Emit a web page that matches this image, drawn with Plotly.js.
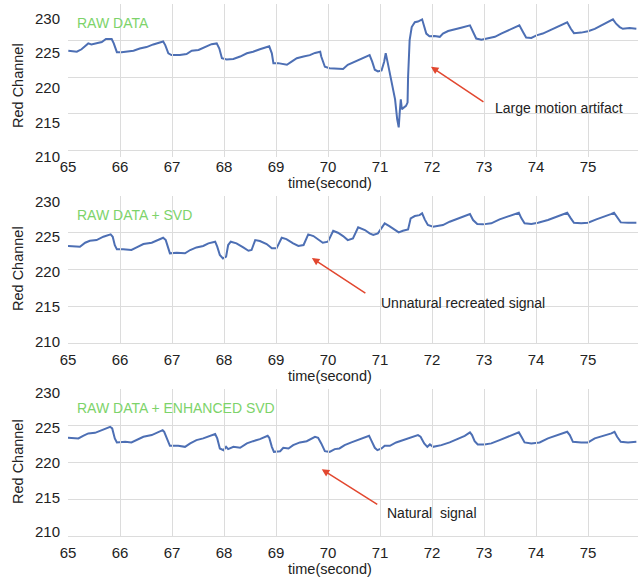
<!DOCTYPE html>
<html>
<head>
<meta charset="utf-8">
<script src="https://cdn.plot.ly/plotly-3.0.1.min.js"></script>
<style>html,body{margin:0;padding:0;background:#fff;}#chart{width:638px;height:581px;}</style>
</head>
<body>
<div id="chart"></div>
<script>
// ---- data ----
const xTicks = [65, 66, 67, 68, 69, 70, 71, 72, 73, 74, 75];
const yTicks = [210, 215, 220, 225, 230];
const panelTitles = ["RAW DATA", "RAW DATA + SVD", "RAW DATA + ENHANCED SVD"];
const notes = ["Large motion artifact", "Unnatural recreated signal", "Natural\u00a0 signal"];

const rawTime = [65.006,65.17,65.26,65.39,65.45,65.55,65.65,65.73,65.84,65.88,65.94,66.03,66.13,66.26,66.38,66.51,66.64,66.74,66.83,66.87,66.93,66.99,67.15,67.28,67.38,67.51,67.63,67.76,67.86,67.91,67.96,68.05,68.18,68.31,68.44,68.56,68.69,68.82,68.87,68.92,68.95,69.04,69.21,69.30,69.40,69.53,69.65,69.75,69.85,69.87,69.94,70.03,70.19,70.29,70.38,70.45,70.51,70.61,70.71,70.80,70.85,70.90,70.96,71.03,71.08,71.11,71.15,71.22,71.29,71.33,71.36,71.38,71.40,71.42,71.50,71.53,71.54,71.57,71.61,71.67,71.73,71.81,71.85,71.89,71.95,72.05,72.15,72.21,72.31,72.44,72.56,72.73,72.79,72.85,72.95,73.08,73.21,73.33,73.46,73.59,73.68,73.75,73.81,73.91,74.01,74.13,74.26,74.39,74.52,74.60,74.67,74.73,74.87,75.0,75.13,75.26,75.38,75.48,75.54,75.61,75.67,75.80,75.93];
const rawRed = [223.6,223.46,223.8,224.6,224.46,224.6,224.8,225.2,225.2,224.6,223.4,223.4,223.46,223.6,223.9,224.1,224.46,224.7,224.87,224.37,223.25,223.0,223.0,223.15,223.6,223.7,224.05,224.5,224.6,223.9,222.57,222.4,222.47,222.8,223.25,223.46,223.8,224.1,224.2,223.25,221.9,221.9,221.67,222.1,222.57,222.8,223.0,223.3,223.46,222.8,221.4,221.2,221.2,221.1,221.67,221.9,222.1,222.34,222.7,223.0,222.1,221.0,220.76,220.9,222.1,223.25,221.9,219.64,216.94,214.24,213.1,215.2,216.94,215.6,216.04,216.5,220.0,225.04,226.84,227.5,227.6,227.9,226.84,225.95,225.58,225.6,225.5,225.95,226.3,226.5,226.75,227.07,226.16,225.27,225.1,225.27,225.5,225.95,226.4,226.75,227.07,226.16,225.4,225.35,225.7,225.95,226.4,226.84,227.3,227.5,226.6,226.0,226.08,226.26,226.6,227.07,227.5,227.9,227.3,226.84,226.6,226.7,226.6];

const svdTime = [65.0,65.23,65.33,65.42,65.55,65.68,65.82,65.86,65.90,65.94,66.06,66.22,66.32,66.45,66.61,66.71,66.83,66.88,66.93,66.96,67.09,67.25,67.35,67.47,67.60,67.70,67.83,67.87,67.92,67.98,68.04,68.08,68.13,68.24,68.37,68.47,68.53,68.60,68.69,68.82,68.92,69.01,69.11,69.20,69.33,69.43,69.53,69.62,69.72,69.82,69.90,70.0,70.10,70.19,70.29,70.38,70.48,70.58,70.71,70.80,70.87,70.96,71.09,71.18,71.28,71.36,71.44,71.54,71.59,71.67,71.76,71.81,71.86,71.92,72.02,72.12,72.21,72.34,72.50,72.63,72.73,72.79,72.87,72.98,73.14,73.30,73.46,73.59,73.67,73.72,73.78,73.91,74.04,74.23,74.39,74.52,74.60,74.67,74.73,74.87,75.0,75.16,75.32,75.44,75.5,75.56,75.63,75.77,75.93];
const svdRed = [223.2,223.1,223.64,223.9,224.0,224.46,224.78,224.46,223.3,222.74,222.74,222.65,223.0,223.46,223.64,224.0,224.32,224.0,222.65,222.2,222.28,222.2,222.65,223.0,223.2,223.56,223.78,223.1,221.97,221.5,221.74,223.33,223.78,223.56,223.0,222.55,222.65,224.0,223.87,223.46,222.88,222.88,224.32,224.14,223.56,223.2,223.33,224.78,224.55,224.0,223.64,223.78,225.27,225.0,224.55,224.0,224.24,225.73,225.37,224.92,224.69,224.92,226.28,225.9,225.46,225.05,225.27,225.46,226.96,227.27,227.4,227.64,226.82,226.05,225.82,225.9,226.05,226.5,226.96,227.27,227.54,226.73,226.18,226.14,226.28,226.82,227.18,227.54,227.72,226.96,226.28,226.18,226.36,226.73,227.18,227.54,227.72,226.96,226.36,226.28,226.36,226.82,227.18,227.54,227.72,227.18,226.41,226.36,226.36];

const enhTime = [65.0,65.20,65.29,65.39,65.52,65.65,65.81,65.85,65.90,65.94,66.10,66.22,66.32,66.45,66.61,66.71,66.82,66.85,66.92,66.96,67.12,67.25,67.35,67.47,67.60,67.73,67.83,67.87,67.92,67.99,68.04,68.08,68.18,68.31,68.44,68.56,68.69,68.84,68.87,68.92,68.96,69.08,69.14,69.24,69.33,69.46,69.59,69.75,69.81,69.87,69.94,70.03,70.13,70.22,70.32,70.45,70.58,70.71,70.79,70.83,70.90,70.95,71.03,71.09,71.19,71.31,71.44,71.57,71.73,71.78,71.85,71.91,71.96,72.02,72.18,72.34,72.5,72.63,72.73,72.77,72.82,72.88,73.01,73.14,73.30,73.46,73.59,73.67,73.72,73.78,73.91,74.07,74.23,74.39,74.52,74.60,74.65,74.71,74.87,75.0,75.13,75.32,75.45,75.51,75.56,75.63,75.77,75.93];
const enhRed = [223.36,223.28,223.63,223.96,224.04,224.41,224.86,224.64,223.28,222.73,222.81,222.73,223.05,223.5,223.73,224.1,224.41,224.18,222.81,222.27,222.27,222.13,222.6,223.05,223.28,223.63,223.87,223.28,221.91,221.68,222.13,221.82,222.13,222.0,222.6,222.9,223.18,223.63,223.36,222.13,221.45,221.54,222.0,221.91,222.36,222.73,222.9,223.5,223.36,222.6,221.54,221.45,221.82,221.91,222.36,222.73,223.05,223.36,223.63,223.05,222.0,221.68,221.91,222.27,222.27,222.73,223.05,223.36,223.73,223.5,222.6,222.13,222.46,222.13,222.36,222.73,223.18,223.63,224.1,223.73,222.9,222.46,222.46,222.6,223.05,223.5,223.82,224.1,223.5,222.73,222.6,222.73,223.28,223.63,223.96,224.18,223.73,222.81,222.73,222.73,223.28,223.63,223.96,224.18,223.5,222.81,222.73,222.81];

// ---- styling / layout ----
const W = 638, H = 581, L = 68;
const lineColor = '#4d6fb4';
const green = '#7dd36a';
const red = '#e2472f';
const grid = '#dcdcdc';
const font = 'Liberation Sans, Arial, Helvetica, sans-serif';
const px = v => (v - L) / (W - L);      // pixel -> paper x
const py = v => 1 - v / H;              // pixel -> paper y

// plot box (top/bot) and where the reference prints its y labels (lTop/lBot)
const panels = [
  {t: rawTime, v: rawRed, top: 4, bot: 150, lTop: 18.5, lBot: 157, titleY: 86, xtY: 183, lblY: 23},
  {t: svdTime, v: svdRed, top: 196, bot: 343, lTop: 202, lBot: 342, titleY: 269, xtY: 376, lblY: 215},
  {t: enhTime, v: enhRed, top: 389, bot: 536, lTop: 393, lBot: 532, titleY: 462, xtY: 569, lblY: 408}
];

const traces = [];
const layout = {
  width: W, height: H,
  margin: {l: L, r: 0, t: 0, b: 0, pad: 0},
  paper_bgcolor: '#fff', plot_bgcolor: 'rgba(0,0,0,0)',
  showlegend: false,
  font: {family: font, size: 15, color: '#222'},
  annotations: []
};

panels.forEach((p, i) => {
  const n = i === 0 ? '' : String(i + 1);
  const ln = String(i + 4);
  traces.push({
    x: p.t, y: p.v, type: 'scatter', mode: 'lines',
    xaxis: 'x' + n, yaxis: 'y' + n,
    line: {color: lineColor, width: 2},
    hoverinfo: 'skip'
  });
  // empty helper trace so the label axis is drawn
  traces.push({
    x: [xTicks[0]], y: [null], type: 'scatter', mode: 'lines',
    xaxis: 'x' + n, yaxis: 'y' + ln, hoverinfo: 'skip', showlegend: false
  });
  layout['xaxis' + n] = {
    domain: [0, 1], anchor: 'y' + n, range: [65, 65 + (W - L) / 52],
    tickmode: 'array', tickvals: xTicks, ticks: '', showgrid: true,
    gridcolor: grid, gridwidth: 1, zeroline: false,
    showline: true, linecolor: grid, linewidth: 1,
    tickfont: {size: 15, color: '#222'}, ticklabelstandoff: 3
  };
  layout['yaxis' + n] = {
    domain: [py(p.bot), py(p.top)], anchor: 'x' + n, range: [210, 230],
    tickmode: 'array', tickvals: yTicks, ticks: '', showgrid: true,
    gridcolor: grid, gridwidth: 1, zeroline: false, showline: false,
    showticklabels: false
  };
  layout['yaxis' + ln] = {
    domain: [py(p.lBot), py(p.lTop)], anchor: 'x' + n, range: [210, 230],
    tickmode: 'array', tickvals: yTicks, ticks: '', showgrid: false,
    zeroline: false, showline: false,
    tickfont: {size: 15, color: '#222'}, ticklabelstandoff: 7
  };
  layout.annotations.push({
    xref: 'paper', yref: 'paper', x: px(18), y: py(p.titleY), text: 'Red Channel',
    textangle: -90, showarrow: false, font: {size: 14.5, color: '#222'},
    xanchor: 'center', yanchor: 'middle'
  });
  layout.annotations.push({
    xref: 'paper', yref: 'paper', x: px(330), y: py(p.xtY), text: 'time(second)',
    showarrow: false, font: {size: 14.5, color: '#222'},
    xanchor: 'center', yanchor: 'middle'
  });
  layout.annotations.push({
    xref: 'paper', yref: 'paper', x: px(75), y: py(p.lblY), text: panelTitles[i],
    showarrow: false, font: {size: 14, color: green},
    xanchor: 'left', yanchor: 'middle'
  });
});

// arrows (head in data coords, tail offset in px)
const arrows = [
  {xr: 'x', yr: 'y', x: 71.98, y: 221.4, ax: 54, ay: 36, tx: 493, ty: 108},
  {xr: 'x2', yr: 'y2', x: 69.69, y: 221.56, ax: 55, ay: 36, tx: 379, ty: 303},
  {xr: 'x3', yr: 'y3', x: 69.88, y: 219.08, ax: 57, ay: 36, tx: 385, ty: 513}
];
arrows.forEach((a, i) => {
  layout.annotations.push({
    xref: a.xr, yref: a.yr, x: a.x, y: a.y, ax: a.ax, ay: a.ay, text: '',
    showarrow: true, arrowhead: 2, arrowsize: 1, arrowwidth: 1.5, arrowcolor: red
  });
  layout.annotations.push({
    xref: 'paper', yref: 'paper', x: px(a.tx), y: py(a.ty), text: notes[i],
    showarrow: false, font: {size: 14, color: '#222'},
    xanchor: 'left', yanchor: 'middle'
  });
});

Plotly.newPlot('chart', traces, layout, {staticPlot: true, displayModeBar: false});
</script>
</body>
</html>
